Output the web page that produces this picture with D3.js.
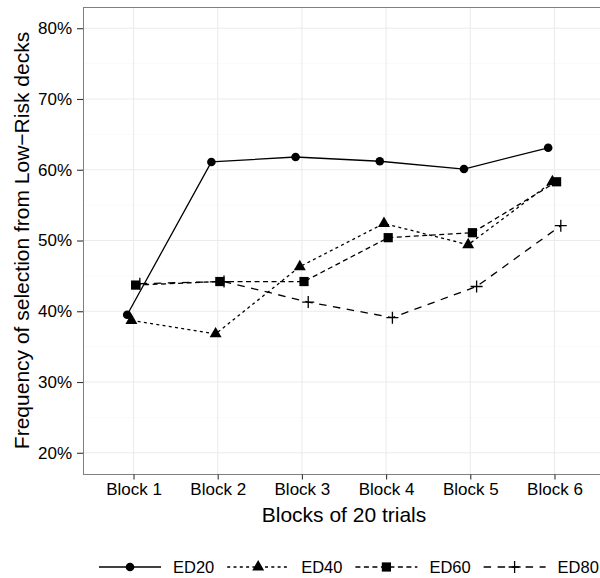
<!DOCTYPE html>
<html>
<head>
<meta charset="utf-8">
<script src="https://cdn.jsdelivr.net/npm/d3@7"></script>
<style>
  body { margin: 0; background: #fff; }
  svg { display: block; font-family: "Liberation Sans", Arial, sans-serif; }
</style>
</head>
<body>
<div id="chart"></div>
<script>
// Data ----------------------------------------------
const blocks = ["Block 1", "Block 2", "Block 3", "Block 4", "Block 5", "Block 6"];
const groups = ["ED20", "ED40", "ED60", "ED80"];
const ed20 = [0.395, 0.611, 0.618, 0.612, 0.601, 0.631];
const ed40 = [0.387, 0.368, 0.463, 0.524, 0.494, 0.583];
const ed60 = [0.437, 0.442, 0.442, 0.504, 0.511, 0.583];
const ed80 = [0.439, 0.442, 0.413, 0.391, 0.435, 0.521];
const yTicks = [0.2, 0.3, 0.4, 0.5, 0.6, 0.7, 0.8];
const yMinor = [0.25, 0.35, 0.45, 0.55, 0.65, 0.75];

const seriesValues = [ed20, ed40, ed60, ed80];

// Constants ----------------------------------------------
const width = 600;
const height = 578;
const panel = {left: 83, right: 605, top: 7, bottom: 474};
const dashes = ["none", "3,3.3", "5,3.5", "7.5,6.5"];
const shapes = ["circle", "triangle", "square", "plus"];
const gridMajor = "#ebebeb";
const gridMinor = "#fafafa";
const lineWidth = 1.3;
const tickFont = "17px";
const legendFont = "16.5px";
const titleFont = "21px";

// Scales ----------------------------------------------
const xScale = d3.scaleLinear()
  .domain([0.4, blocks.length + 0.6])
  .range([panel.left, panel.right]);

const yScale = d3.scaleLinear()
  .domain([0.17, 0.83])
  .range([panel.bottom, panel.top]);

// dodge offset per group (in block units)
const dodge = i => (i - 1.5) * 0.05;

// Functions ----------------------------------------------
function drawShape(sel, shape) {
  if (shape === "circle") {
    sel.append("circle").attr("r", 4.3).attr("fill", "#000");
  } else if (shape === "triangle") {
    sel.append("path").attr("d", d3.symbol(d3.symbolTriangle, 62)()).attr("fill", "#000");
  } else if (shape === "square") {
    sel.append("rect").attr("x", -4.6).attr("y", -4.6).attr("width", 9.2).attr("height", 9.2).attr("fill", "#000");
  } else {
    sel.append("path").attr("d", "M-6,0H6M0,-6V6")
      .attr("stroke", "#000").attr("stroke-width", 1.3).attr("fill", "none");
  }
}

const svg = d3.select("#chart")
  .append("svg")
  .attr("width", width)
  .attr("height", height);

svg.append("defs").append("clipPath").attr("id", "clip")
  .append("rect")
  .attr("x", panel.left).attr("y", panel.top)
  .attr("width", panel.right - panel.left).attr("height", panel.bottom - panel.top);

// Grid
const grid = svg.append("g");
grid.selectAll(".minor")
  .data(yMinor)
  .enter()
  .append("line")
  .attr("x1", panel.left).attr("x2", panel.right)
  .attr("y1", d => yScale(d)).attr("y2", d => yScale(d))
  .attr("stroke", gridMinor).attr("stroke-width", 1);

grid.selectAll(".majorY")
  .data(yTicks)
  .enter()
  .append("line")
  .attr("x1", panel.left).attr("x2", panel.right)
  .attr("y1", d => yScale(d)).attr("y2", d => yScale(d))
  .attr("stroke", gridMajor).attr("stroke-width", 1.1);

grid.selectAll(".majorX")
  .data(blocks)
  .enter()
  .append("line")
  .attr("x1", (d, i) => xScale(i + 1)).attr("x2", (d, i) => xScale(i + 1))
  .attr("y1", panel.top).attr("y2", panel.bottom)
  .attr("stroke", gridMajor).attr("stroke-width", 1.1);

// Lines and points
const plot = svg.append("g").attr("clip-path", "url(#clip)");
const line = d3.line();

seriesValues.forEach((vals, g) => {
  const pts = vals.map((v, i) => [xScale(i + 1 + dodge(g)), yScale(v)]);
  plot.append("path")
    .attr("d", line(pts))
    .attr("fill", "none")
    .attr("stroke", "#000")
    .attr("stroke-width", lineWidth)
    .attr("stroke-dasharray", dashes[g]);
  pts.forEach(p => {
    const s = plot.append("g").attr("transform", `translate(${p[0]},${p[1]})`);
    drawShape(s, shapes[g]);
  });
});

// Panel border
svg.append("rect")
  .attr("x", panel.left + 0.5).attr("y", panel.top + 0.5)
  .attr("width", panel.right - panel.left).attr("height", panel.bottom - panel.top)
  .attr("fill", "none").attr("stroke", "#7f7f7f").attr("stroke-width", 1);

// Axes
const xAxis = svg.append("g")
  .attr("transform", `translate(0,${panel.bottom + 0.5})`)
  .call(d3.axisBottom(xScale)
    .tickValues(d3.range(1, blocks.length + 1))
    .tickFormat(d => blocks[d - 1])
    .tickSize(5).tickPadding(3));

const yAxis = svg.append("g")
  .attr("transform", `translate(${panel.left},0)`)
  .call(d3.axisLeft(yScale)
    .tickValues(yTicks)
    .tickFormat(d3.format(".0%"))
    .tickSize(6).tickPadding(5));

[xAxis, yAxis].forEach(a => {
  a.select(".domain").remove();
  a.selectAll(".tick line").attr("stroke", "#333").attr("stroke-width", 1.1);
  a.selectAll(".tick text").attr("fill", "#000").style("font-size", tickFont);
});

// Axis titles
svg.append("text")
  .attr("x", (panel.left + panel.right) / 2)
  .attr("y", 522)
  .attr("text-anchor", "middle")
  .style("font-size", titleFont)
  .text("Blocks of 20 trials");

svg.append("text")
  .attr("transform", `translate(29,${(panel.top + panel.bottom) / 2}) rotate(-90)`)
  .attr("text-anchor", "middle")
  .style("font-size", titleFont)
  .text("Frequency of selection from Low\u2212Risk decks");

// Legend
const legend = svg.append("g").attr("transform", "translate(99,567)");
groups.forEach((name, g) => {
  const item = legend.append("g").attr("transform", `translate(${g * 128.2},0)`);
  item.append("line")
    .attr("x1", 0).attr("x2", 62)
    .attr("stroke", "#000").attr("stroke-width", lineWidth)
    .attr("stroke-dasharray", dashes[g]);
  drawShape(item.append("g").attr("transform", "translate(31,0)"), shapes[g]);
  item.append("text")
    .attr("x", 74).attr("y", 0).attr("dy", "0.36em")
    .style("font-size", legendFont)
    .text(name);
});
</script>
</body>
</html>
